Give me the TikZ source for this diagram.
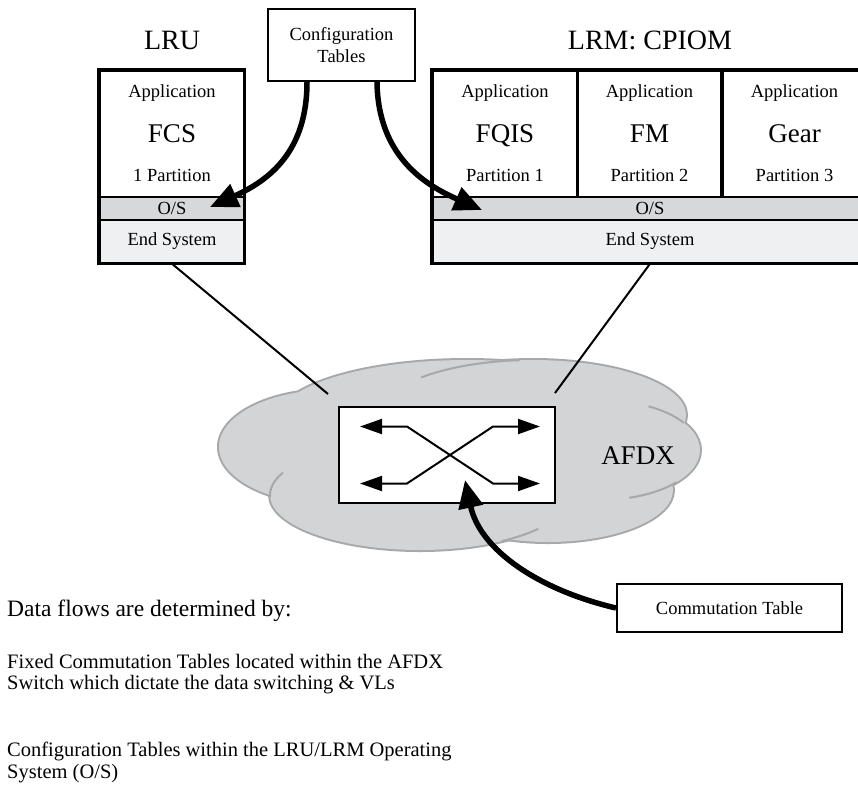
\documentclass[tikz,border=0pt]{standalone}
\usepackage{fontspec}
\setmainfont{Liberation Serif}
\usetikzlibrary{positioning,arrows.meta,calc}
\definecolor{afdxos}{HTML}{D7D8DA}
\definecolor{afdxes}{HTML}{EFF0F2}
\definecolor{afdxcloud}{HTML}{D3D4D6}
\definecolor{afdxrim}{HTML}{A7A8AA}

\begin{document}
\begin{tikzpicture}[x=1pt,y=-1pt,
  part/.style={draw,line width=2.5pt,minimum width=144pt,minimum height=126pt,inner sep=0pt},
  osband/.style={draw,fill=afdxos,line width=1.5pt,minimum height=23pt,inner sep=0pt,font=\fontsize{18.5}{22}\selectfont},
  esband/.style={draw,fill=afdxes,line width=1.5pt,minimum height=43pt,inner sep=0pt,font=\fontsize{18.5}{22}\selectfont},
  boxframe/.style={line width=3pt},
  sm/.style={font=\fontsize{18.5}{22}\selectfont,inner sep=0pt,anchor=base},
  big/.style={font=\fontsize{27}{30}\selectfont,inner sep=0pt,anchor=base},
  ttl/.style={font=\fontsize{28}{32}\selectfont,inner sep=0pt,anchor=base},
  tbl/.style={draw,line width=2pt,fill=white,font=\fontsize{18.5}{22}\selectfont,align=center,inner sep=0pt},
  note/.style={font=\fontsize{20.5}{21.5}\selectfont,align=left,inner sep=0pt,anchor=north west},
  fat/.style={line width=5.5pt,-{Triangle[length=28pt,width=24pt]}},
  swarr/.style={line width=2pt,{Triangle[length=22pt,width=15pt]}-{Triangle[length=22pt,width=15pt]}},
  link/.style={line width=2pt},
  rim/.style={draw=afdxrim,line width=2pt}
]
\useasboundingbox (0,0) rectangle (858,785);
\clip (0,0) rectangle (858,785);

% AFDX cloud
\foreach \cx/\cy/\rx/\ry in {467/420/190/60,330/447/111/57,533/415/153/55,600/450/100/50,548/490/125/52,420/495/150/55}
  \draw[draw=afdxrim,line width=4pt] (\cx,\cy) ellipse [x radius=\rx,y radius=\ry];
\foreach \cx/\cy/\rx/\ry in {467/420/190/60,330/447/111/57,533/415/153/55,600/450/100/50,548/490/125/52,420/495/150/55}
  \fill[afdxcloud] (\cx,\cy) ellipse [x radius=\rx,y radius=\ry];
\foreach \cx/\cy/\rx/\ry/\ta/\tb in {533/415/153/55/-137/-95,420/495/150/55/178/204,600/450/100/50/-61/-33,600/450/100/50/40/73,420/495/150/55/38/57}
  \draw[rim] (\cx,\cy) ++(\ta:{\rx} and {\ry}) arc[start angle=\ta,end angle=\tb,x radius=\rx,y radius=\ry];
\coordinate (cloudl) at (328,394);
\coordinate (cloudr) at (555,393);
\node[big] (afdx) at (638,464) {AFDX};

% switch
\node[draw,line width=2pt,fill=white,minimum width=216pt,minimum height=96pt,inner sep=0pt] (sw) at (447,455) {};
\coordinate (swtl) at ([shift={(-87,-28.5)}]sw.center);
\coordinate (swtr) at ([shift={(93,-28.5)}]sw.center);
\coordinate (swbl) at ([shift={(-87,28.5)}]sw.center);
\coordinate (swbr) at ([shift={(93,28.5)}]sw.center);
\draw[swarr] (swtl) -- ++(47,0) -- ([xshift=-47pt]swbr) -- (swbr);
\draw[swarr] (swbl) -- ++(47,0) -- ([xshift=-47pt]swtr) -- (swtr);

% LRU
\node[ttl] (lrut) at (172,49) {LRU};
\node[part] (fcsp) at (172,134) {};
\node[osband,minimum width=144pt] (los) at (172,208.5) {O/S};
\node[esband,minimum width=144pt] (les) at (172,241.5) {End System};
\node[sm] (fcsa) at (172,97) {Application};
\node[big] (fcsn) at (172,142) {FCS};
\node[sm] (fcsq) at (172,181) {1 Partition};
\draw[boxframe] (fcsp.north west) rectangle (les.south east);

% LRM: CPIOM
\node[ttl] (lrmt) at (650,49) {LRM: CPIOM};
\foreach \x/\nm/\lab [count=\i] in {505/fqis/FQIS,649.5/fm/FM,794.5/gear/Gear}{
  \node[part] (\nm p) at (\x,134) {};
  \node[sm] (\nm a) at (\x,97) {Application};
  \node[big] (\nm n) at (\x,142) {\lab};
  \node[sm] (\nm q) at (\x,181) {Partition \i};
}
\node[osband,minimum width=434pt] (mos) at (650,208.5) {O/S};
\node[esband,minimum width=434pt] (mes) at (650,241.5) {End System};
\draw[boxframe] (fqisp.north west) rectangle (mes.south east);

% tables
\node[tbl,minimum width=147pt,minimum height=72pt] (cfg) at (341.5,45) {Configuration\\Tables};
\node[tbl,minimum width=225pt,minimum height=48pt] (comm) at (729.5,608) {Commutation Table};

\draw[link] (les.south) -- (cloudl);
\draw[link] (mes.south) -- (cloudr);

\coordinate (lostip) at (210,207);
\coordinate (mostip) at (482,210);
\coordinate (swin) at (465,480);
\draw[fat] ([xshift=-34.5pt]cfg.south) .. controls +(0,69) and +(60,-27) .. (lostip);
\draw[fat] ([xshift=35.5pt]cfg.south) .. controls +(1,74) and +(-57,-25) .. (mostip);
\draw[fat] (comm.west) .. controls +(-77,-18) and +(15,70) .. (swin);

% notes
\node[note,anchor=base west,font=\fontsize{23.5}{24}\selectfont] (flow) at (7,616) {Data flows are determined by:};
\node[note] (fixed) at (7,654) {Fixed Commutation Tables located within the AFDX\\Switch which dictate the data switching \& VLs};
\node[note] (cfgnote) at (7,742) {Configuration Tables within the LRU/LRM Operating\\System (O/S)};
\end{tikzpicture}
\end{document}
